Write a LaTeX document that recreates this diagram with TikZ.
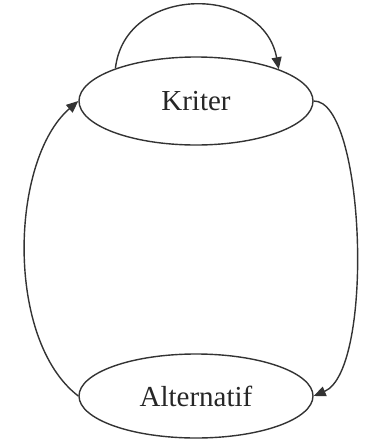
\documentclass[tikz,border=0pt]{standalone}
\usepackage{fontspec}
\setmainfont{Liberation Serif}
\usetikzlibrary{shapes.geometric,arrows.meta}
\begin{document}
\begin{tikzpicture}[x=1pt,y=-1pt,
  state/.style={draw=black!80,line width=1.4pt,ellipse,inner sep=0pt,
    minimum width=234pt,font=\fontsize{29}{32}\selectfont,text=black!85},
  link/.style={draw=black!80,line width=1.4pt,-{Triangle[length=12pt,width=10pt]}}]
\useasboundingbox (0,0) rectangle (368,445);
\node[state,minimum height=88pt] (K) at (196,101) {Kriter};
\node[state,minimum height=84pt] (A) at (196,396) {Alternatif};
\draw[link] (K.158) .. controls (125,-16) and (263,-16) .. (K.21);
\draw[link] (A.west) .. controls (5,340) and (10,160) .. (K.west);
\draw[link] (K.east) .. controls (365,100) and (375,370) .. (A.east);
\end{tikzpicture}
\end{document}
